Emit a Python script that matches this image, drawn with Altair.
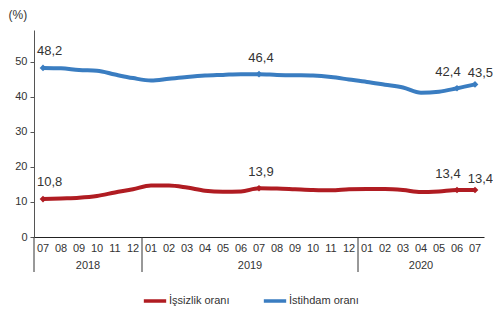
import altair as alt
import pandas as pd

months = ["07", "08", "09", "10", "11", "12",
          "01", "02", "03", "04", "05", "06", "07", "08", "09", "10", "11", "12",
          "01", "02", "03", "04", "05", "06", "07"]
years = ["2018", "2019", "2020"]
year_counts = [6, 12, 7]

unemployment = [10.8, 11.0, 11.2, 11.7, 12.7, 13.6,
                14.7, 14.7, 14.1, 13.2, 12.9, 13.0, 13.9, 13.8, 13.6, 13.4, 13.3, 13.6,
                13.7, 13.7, 13.4, 12.8, 13.0, 13.4, 13.4]
employment = [48.2, 48.1, 47.6, 47.4, 46.3, 45.3,
              44.6, 45.1, 45.6, 46.0, 46.2, 46.4, 46.4, 46.2, 46.1, 46.0, 45.6, 44.9,
              44.2, 43.4, 42.6, 41.1, 41.4, 42.4, 43.5]
labelled = [0, 12, 23, 24]

series_names = ["İşsizlik oranı", "İstihdam oranı"]
colors = ["#b01c22", "#3a7dc1"]
FONT = "Liberation Sans"

rows = []
for name, vals in zip(series_names, [unemployment, employment]):
    for i, v in enumerate(vals):
        rows.append({"idx": i, "month": months[i], "series": name, "value": v,
                     "label": f"{v:.1f}".replace(".", ","),
                     "marked": i in labelled})
df = pd.DataFrame(rows)

month_df = pd.DataFrame({"idx": list(range(len(months))), "month": months})
starts = []
s = 0
for c in year_counts:
    starts.append(s)
    s += c
year_df = pd.DataFrame({"year": years,
                        "center": [st + (c - 1) / 2 for st, c in zip(starts, year_counts)]})
sep_df = pd.DataFrame({"b": [st - 0.5 for st in starts]})

xscale = alt.Scale(domain=[-0.5, len(months) - 0.5], nice=False, zero=False)
yscale = alt.Scale(domain=[0, 59], nice=False)
color = alt.Color("series:N", scale=alt.Scale(domain=series_names, range=colors),
                  legend=alt.Legend(title=None, orient="none", legendX=108, legendY=258,
                                    direction="horizontal", symbolType="stroke",
                                    symbolStrokeWidth=3.5, symbolSize=500,
                                    labelFont=FONT, labelFontSize=11, labelColor="#333",
                                    labelOffset=1, columnPadding=26, padding=0))

x = alt.X("idx:Q", scale=xscale,
          axis=alt.Axis(labels=False, ticks=False, grid=False, domainColor="#222",
                        title=None))
y = alt.Y("value:Q", scale=yscale,
          axis=alt.Axis(values=[0, 10, 20, 30, 40, 50], grid=False, tickSize=4,
                        domainColor="#555", tickColor="#555", labelFont=FONT,
                        labelFontSize=11, labelColor="#333", labelPadding=3,
                        title="(%)", titleAngle=0, titleX=-26, titleY=-16,
                        titleAlign="left", titleBaseline="middle", titleFont=FONT,
                        titleFontSize=12, titleFontWeight="normal", titleColor="#333"))

base = alt.Chart(df)
lines = base.mark_line(strokeWidth=4, interpolate="monotone").encode(x=x, y=y, color=color)
points = base.mark_point(shape="diamond", filled=True, size=45, opacity=1).encode(
    x="idx:Q", y="value:Q",
    color=alt.Color("series:N", scale=alt.Scale(domain=series_names, range=colors), legend=None)
).transform_filter("datum.marked")

tstyle = dict(font=FONT, fontSize=13, color="#333")
lab_first = base.mark_text(align="left", dx=-6, dy=-17, **tstyle).encode(
    x="idx:Q", y="value:Q", text="label:N").transform_filter("datum.idx == 0")
lab_mid = base.mark_text(align="center", dx=2, dy=-16, **tstyle).encode(
    x="idx:Q", y="value:Q", text="label:N").transform_filter("datum.idx == 12")
lab_23 = base.mark_text(align="center", dx=-9, dy=-16, **tstyle).encode(
    x="idx:Q", y="value:Q", text="label:N").transform_filter("datum.idx == 23")
lab_24 = base.mark_text(align="right", dx=18, dy=-11, **tstyle).encode(
    x="idx:Q", y="value:Q", text="label:N").transform_filter("datum.idx == 24")

month_text = alt.Chart(month_df).mark_text(font=FONT, fontSize=11, color="#333",
                                           baseline="middle").encode(
    x="idx:Q", y=alt.value(219), text="month:N")
year_text = alt.Chart(year_df).mark_text(font=FONT, fontSize=11, color="#333",
                                         baseline="middle").encode(
    x=alt.X("center:Q"), y=alt.value(236), text="year:N")
seps = alt.Chart(sep_df).mark_rule(color="#333", strokeWidth=1).encode(
    x="b:Q", y=alt.value(207), y2=alt.value(242))

chart = alt.layer(lines, points, lab_first, lab_mid, lab_23, lab_24,
                  month_text, year_text, seps).properties(
    width=450, height=207, autosize="none",
    padding={"left": 26, "top": 22, "right": 9, "bottom": 70},
    background="white"
).configure_view(stroke=None)

chart.save("out.html", embed_options={"renderer": "svg", "actions": False})
